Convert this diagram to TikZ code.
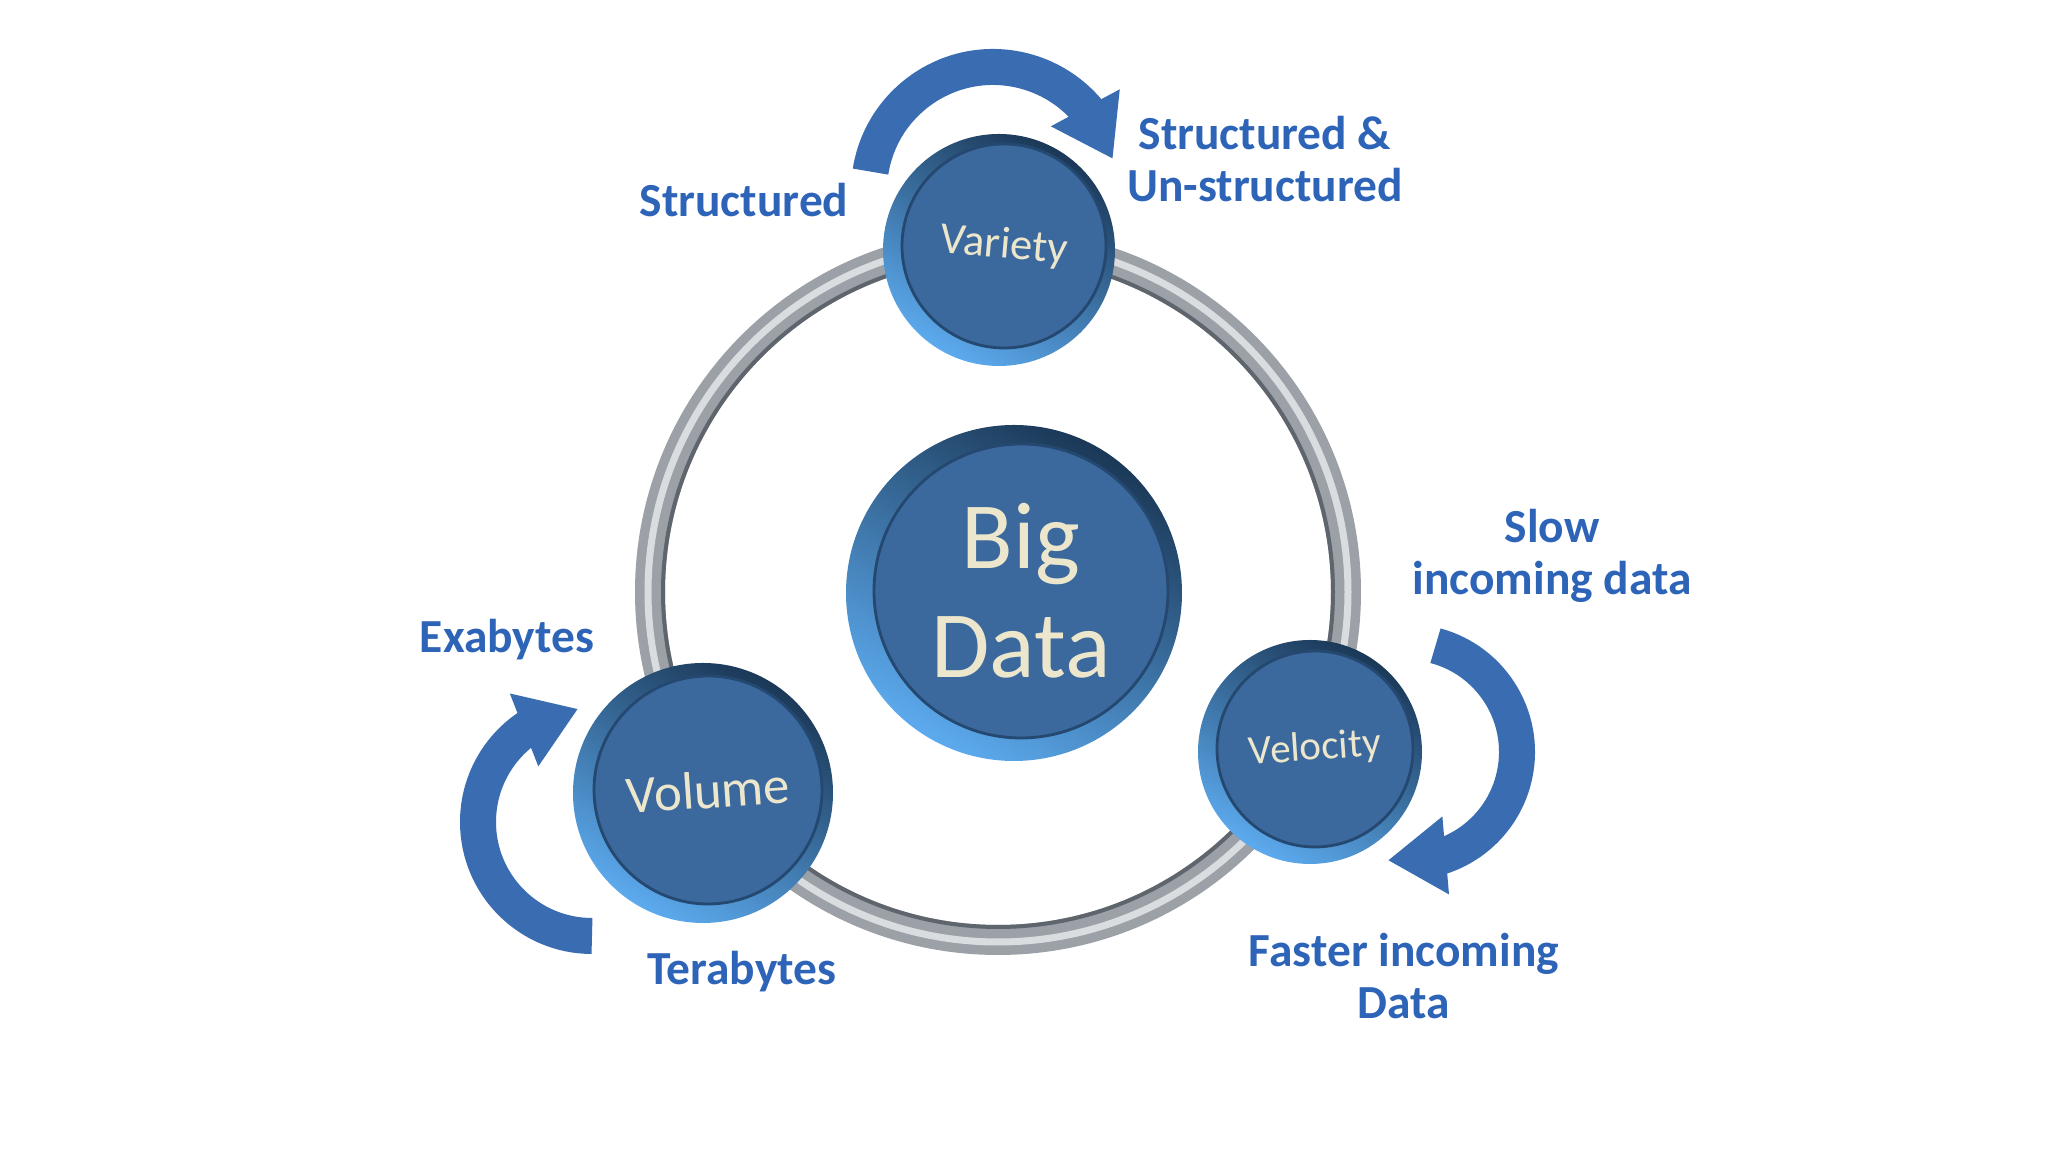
\documentclass[tikz,border=0pt]{standalone}
\usepackage{fontspec}
\setmainfont{Carlito}
\usetikzlibrary{positioning}
\usetikzlibrary{arrows.meta, bending}

\definecolor{discblue}{HTML}{3B689D}
\definecolor{discedge}{HTML}{24486F}
\definecolor{rimdark}{HTML}{1B3857}
\definecolor{rimmid}{HTML}{2F5F93}
\definecolor{rimlight}{HTML}{5CAAEE}
\definecolor{cream}{HTML}{ECE7CC}
\definecolor{labelblue}{HTML}{2E64B8}
\definecolor{arrowblue}{HTML}{3A6CB1}
\definecolor{ringgray}{HTML}{9BA1A7}
\definecolor{ringlight}{HTML}{DADDE0}
\definecolor{ringdark}{HTML}{5E656C}

\begin{document}
\begin{tikzpicture}[
        rim/.style = {
            circle,
            minimum size = #1,
            inner sep = 0pt,
            top color = rimdark,
            middle color = rimmid,
            bottom color = rimlight,
            shading angle = -30
        },
        disc/.style = {
            circle,
            minimum size = #1,
            inner sep = 0pt,
            fill = discblue,
            draw = discedge,
            line width = 0.8pt,
            text = cream,
            align = center
        },
        tag/.style = {
            text = labelblue,
            align = center,
            font = \bfseries\fontsize{13.5}{15}\selectfont
        },
        bigarrow/.style = {
            arrowblue,
            line width = 0.36cm,
            -{Triangle[width=0.74cm, length=0.58cm]}
        }
        ]
%
        \fill[white] (0,0) rectangle (20.48,11.52);
        \useasboundingbox (0,0) rectangle (20.48,11.52);
%
        \coordinate (hub) at (9.98,5.60);
        \draw[line width=0.30cm, ringgray] (hub) circle[radius=3.48];
        \draw[line width=0.07cm, ringlight] (hub) circle[radius=3.50];
        \draw[line width=0.04cm, ringdark] (hub) circle[radius=3.35];
%
        \coordinate (top turn) at (9.93,9.61);
        \coordinate (left turn) at (5.92,3.30);
        \coordinate (right turn) at (14.07,4.00);
        \draw[bigarrow, shift={(top turn)}] (171:1.24) arc[start angle=171, end angle=15, radius=1.24];
        \draw[bigarrow, shift={(left turn)}] (270:1.14) arc[start angle=270, end angle=97, radius=1.14];
        \draw[bigarrow, shift={(right turn)}] (75:1.10) arc[start angle=75, end angle=-100, radius=1.10];
%
        \node[rim=3.36cm] (big rim) at (10.14,5.59) {};
        \node[disc=2.94cm, font=\fontsize{27}{31}\selectfont] (big) at (10.21,5.61) {Big\\Data};
%
        \node[rim=2.32cm] (variety rim) at (9.99,9.02) {};
        \node[disc=2.04cm, font=\fontsize{12.7}{14}\selectfont, rotate=-5] (variety) at (10.04,9.06) {Variety};
%
        \node[rim=2.60cm] (volume rim) at (7.03,3.59) {};
        \node[disc=2.28cm, font=\fontsize{15}{17}\selectfont, rotate=4] (volume) at (7.08,3.62) {Volume};
%
        \node[rim=2.24cm] (velocity rim) at (13.10,4.00) {};
        \node[disc=1.96cm, font=\fontsize{11.7}{13}\selectfont, rotate=4] (velocity) at (13.15,4.03) {Velocity};
%
        \node[tag] (structured) at (7.44,9.52) {Structured};
        \node[tag] (mixed) at (12.65,9.93) {Structured \&\\Un-structured};
        \node[tag] (slow) at (15.52,5.96) {Slow\\incoming data};
        \node[tag] (exa) at (5.07,5.12) {Exabytes};
        \node[tag] (tera) at (7.42,1.80) {Terabytes};
        \node[tag] (fast) at (14.04,1.76) {Faster incoming\\Data};
%
\end{tikzpicture}
\end{document}
